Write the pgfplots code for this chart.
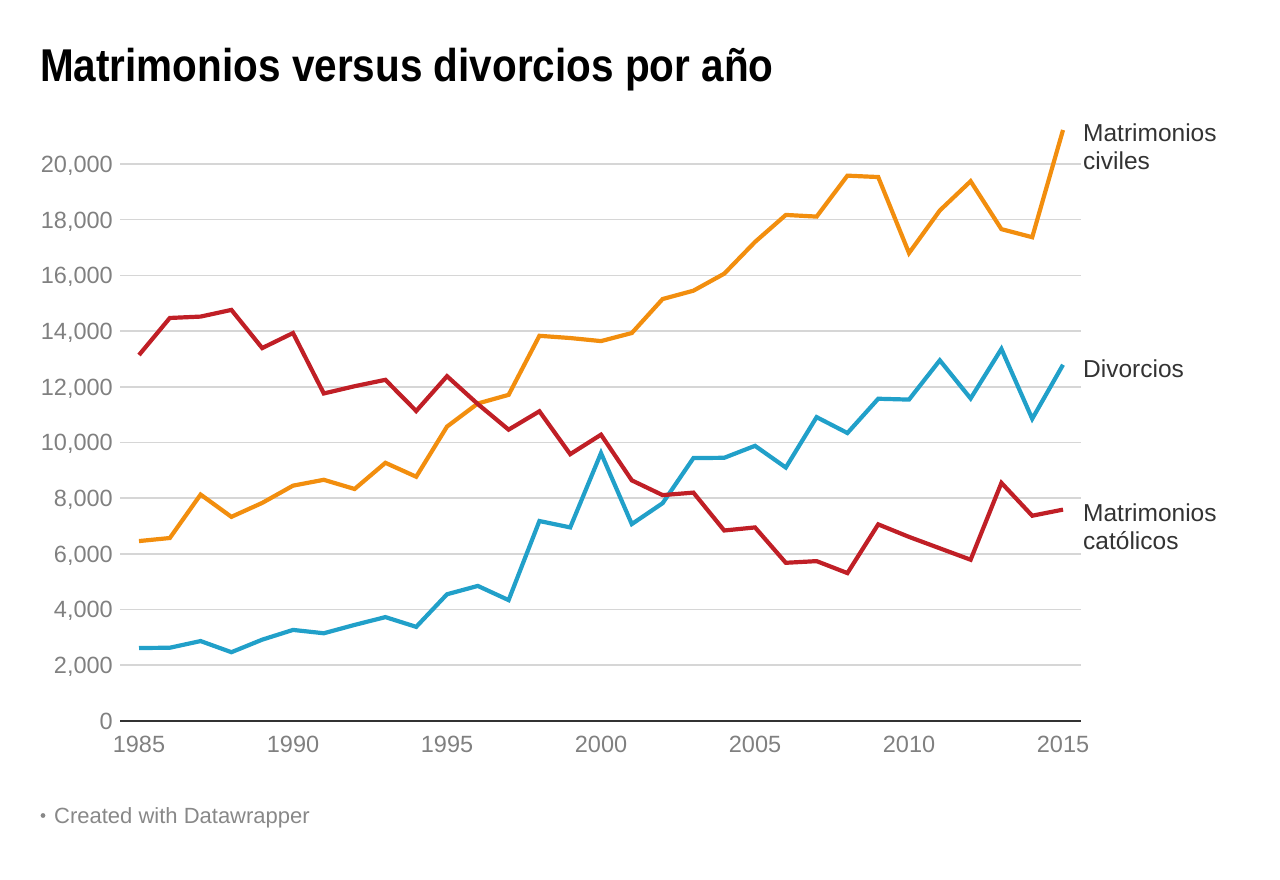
\documentclass[border=0pt]{standalone}
\usepackage{fontspec}
\setmainfont{Liberation Sans}
\usepackage{pgfplots}
\usepackage{pgfplotstable}
\pgfplotsset{compat=1.18}
\definecolor{corange}{HTML}{F28E0E}
\definecolor{cred}{HTML}{C01F26}
\definecolor{cblue}{HTML}{21A0C9}
\definecolor{gridgray}{HTML}{D6D6D6}
\definecolor{tickgray}{HTML}{808080}
\definecolor{labgray}{HTML}{333333}
\definecolor{footgray}{HTML}{888888}

\pgfplotstableread{
year civiles catolicos divorcios
1985 6460 13140 2620
1986 6570 14470 2630
1987 8130 14520 2870
1988 7330 14760 2470
1989 7830 13390 2920
1990 8450 13930 3270
1991 8660 11760 3150
1992 8330 12020 3450
1993 9270 12250 3730
1994 8770 11130 3380
1995 10570 12380 4550
1996 11400 11380 4850
1997 11710 10460 4340
1998 13830 11120 7180
1999 13750 9580 6950
2000 13640 10280 9620
2001 13930 8640 7070
2002 15150 8110 7820
2003 15450 8200 9440
2004 16060 6840 9450
2005 17200 6950 9880
2006 18170 5680 9100
2007 18110 5740 10910
2008 19580 5310 10340
2009 19530 7060 11570
2010 16800 6610 11540
2011 18330 6200 12950
2012 19380 5790 11580
2013 17660 8550 13360
2014 17370 7370 10850
2015 21220 7590 12790
}\datatable

\begin{document}
\begin{tikzpicture}[x=1pt,y=1pt]
\useasboundingbox (0,0) rectangle (1280,880);
\node[anchor=base west, inner sep=0pt, xscale=0.88, font=\fontsize{46}{50}\selectfont\bfseries] at (40,798) {Matrimonios versus divorcios por año};
\begin{axis}[
  at={(120pt,159pt)}, anchor=south west,
  scale only axis, width=961pt, height=598.8pt,
  xmin=1984.383, xmax=2015.584, ymin=0, ymax=21500,
  axis line style={draw=none},
  clip=false,
  ytick={0,2000,...,20000},
  xtick={1985,1990,...,2015},
  scaled y ticks=false,
  scaled x ticks=false,
  ymajorgrids,
  grid style={color=gridgray, line width=1.6pt},
  major tick length=0pt,
  tick style={draw=none},
  yticklabel style={anchor=base east, inner sep=0pt, xshift=-7pt, yshift=-8.4pt, font=\fontsize{23.5}{28}\selectfont, text=tickgray, /pgf/number format/fixed, /pgf/number format/1000 sep={,}, /pgf/number format/assume math mode=true},
  xticklabel style={anchor=base, inner sep=0pt, yshift=-32pt, font=\fontsize{23.5}{28}\selectfont, text=tickgray, /pgf/number format/fixed, /pgf/number format/1000 sep={}, /pgf/number format/assume math mode=true},
]
\draw[labgray, line width=2pt] (rel axis cs:0,0) -- (rel axis cs:1,0);
\addplot[cblue, line width=4.2pt, mark=none] table[x=year, y=divorcios] {\datatable};
\addplot[corange, line width=4.2pt, mark=none] table[x=year, y=civiles] {\datatable};
\addplot[cred, line width=4.2pt, mark=none] table[x=year, y=catolicos] {\datatable};
\end{axis}
\begin{scope}[every node/.style={anchor=base west, inner sep=0pt, font=\fontsize{24.5}{28}\selectfont, text=labgray}]
\node at (1083,738) {Matrimonios};
\node at (1083,710) {civiles};
\node at (1083,502) {Divorcios};
\node at (1083,358) {Matrimonios};
\node at (1083,330) {católicos};
\end{scope}
\fill[footgray] (43,64.5) circle (2.4);
\node[anchor=base west, inner sep=0pt, font=\fontsize{22}{26}\selectfont, text=footgray] at (54,56) {Created with Datawrapper};
\end{tikzpicture}
\end{document}
